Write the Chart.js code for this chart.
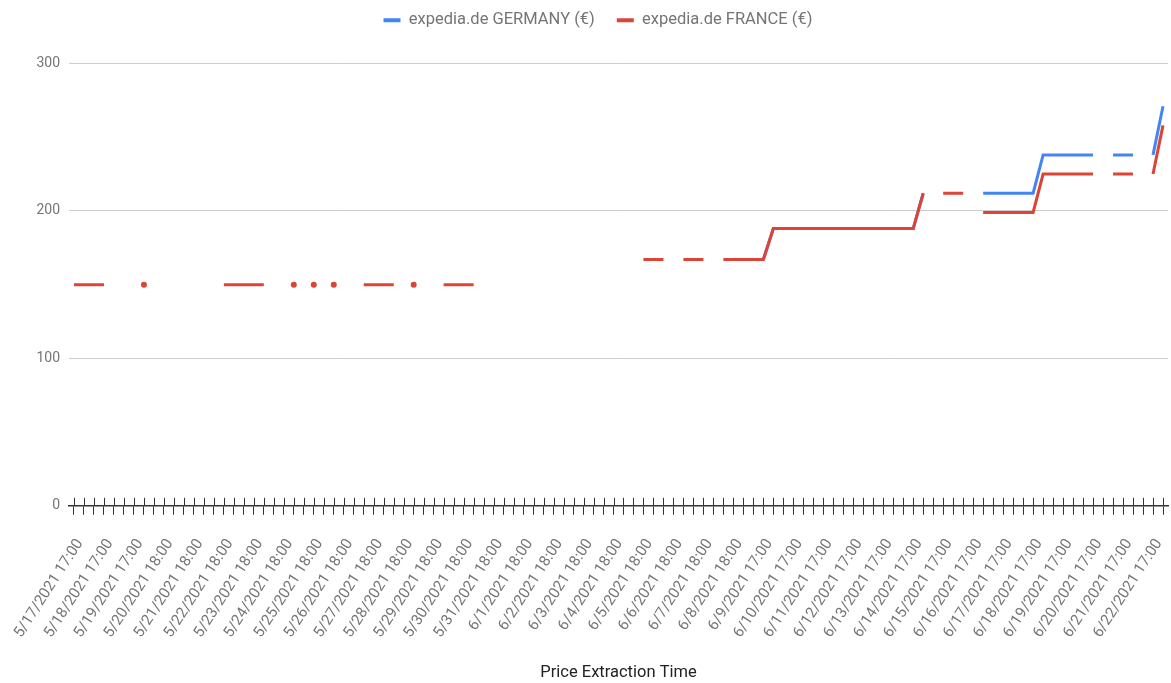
<!DOCTYPE html>
<html>
<head>
<meta charset="utf-8">
<script src="https://cdn.jsdelivr.net/npm/chart.js@4/dist/chart.umd.min.js"></script>
<style>
html, body { margin: 0; padding: 0; background: #ffffff; }
#wrap { width: 1171px; height: 683px; position: relative; }
</style>
</head>
<body>
<div id="wrap"><canvas id="c" width="1171" height="683"></canvas></div>
<script>
// Tick labels (every third extraction time is labelled)
const tickLabels = [
  '5/17/2021 17:00', '5/18/2021 17:00', '5/19/2021 17:00', '5/20/2021 18:00',
  '5/21/2021 18:00', '5/22/2021 18:00', '5/23/2021 18:00', '5/24/2021 18:00',
  '5/25/2021 18:00', '5/26/2021 18:00', '5/27/2021 18:00', '5/28/2021 18:00',
  '5/29/2021 18:00', '5/30/2021 18:00', '5/31/2021 18:00', '6/1/2021 18:00',
  '6/2/2021 18:00', '6/3/2021 18:00', '6/4/2021 18:00', '6/5/2021 18:00',
  '6/6/2021 18:00', '6/7/2021 18:00', '6/8/2021 18:00', '6/9/2021 17:00',
  '6/10/2021 17:00', '6/11/2021 17:00', '6/12/2021 17:00', '6/13/2021 17:00',
  '6/14/2021 17:00', '6/15/2021 17:00', '6/16/2021 17:00', '6/17/2021 17:00',
  '6/18/2021 17:00', '6/19/2021 17:00', '6/20/2021 17:00', '6/21/2021 17:00',
  '6/22/2021 17:00'
];
const labelEvery = 3;

// expedia.de GERMANY (€)
const germany = [
  null, null, null, null, null, null, null, null, null, null,
  null, null, null, null, null, null, null, null, null, null,
  null, null, null, null, null, null, null, null, null, null,
  null, null, null, null, null, null, null, null, null, null,
  null, null, null, null, null, null, null, null, null, null,
  null, null, null, null, null, null, null, null, null, null,
  null, null, null, null, null, null, null, null, null, 167,
  188, 188, 188, 188, 188, 188, 188, 188, 188, 188,
  188, 188, 188, 188, 188, 212, null, null, null, null,
  null, 212, 212, 212, 212, 212, 212, 238, 238, 238,
  238, 238, 238, null, 238, 238, 238, null, 238, 271
];

// expedia.de FRANCE (€)
const france = [
  150, 150, 150, 150, null, null, null, 150, null, null,
  null, null, null, null, null, 150, 150, 150, 150, 150,
  null, null, 150, null, 150, null, 150, null, null, 150,
  150, 150, 150, null, 150, null, null, 150, 150, 150,
  150, null, null, null, null, null, null, null, null, null,
  null, null, null, null, null, null, null, 167, 167, 167,
  null, 167, 167, 167, null, 167, 167, 167, 167, 167,
  188, 188, 188, 188, 188, 188, 188, 188, 188, 188,
  188, 188, 188, 188, 188, 212, null, 212, 212, 212,
  null, 199, 199, 199, 199, 199, 199, 225, 225, 225,
  225, 225, 225, null, 225, 225, 225, null, 225, 258
];

const yTicks = [0, 100, 200, 300];

const categories = france.map((_, i) => (i % labelEvery === 0 ? tickLabels[i / labelEvery] : ''));

function isolatedRadius(ctx) {
  const d = ctx.dataset.data;
  const i = ctx.dataIndex;
  if (d[i] == null) return 0;
  const prev = i > 0 ? d[i - 1] : null;
  const next = i < d.length - 1 ? d[i + 1] : null;
  return (prev == null && next == null) ? 3 : 0;
}

const crossTicks = {
  id: 'crossTicks',
  afterDraw(chart) {
    const xs = chart.scales.x;
    const ys = chart.scales.y;
    const y0 = ys.getPixelForValue(0);
    const c = chart.ctx;
    c.save();
    c.strokeStyle = '#333333';
    c.lineWidth = 1;
    c.beginPath();
    for (let i = 0; i < xs.ticks.length; i++) {
      const x = Math.round(xs.getPixelForTick(i)) + 0.5;
      c.moveTo(x, y0 - 8);
      c.lineTo(x, y0);
    }
    c.stroke();
    c.restore();
  }
};

const legendGap = {
  id: 'legendGap',
  beforeInit(chart) {
    const lg = chart.legend;
    if (!lg) return;
    const fit = lg.fit;
    lg.fit = function () {
      fit.call(this);
      this.height += 25;
    };
    const draw = lg.draw;
    lg.draw = function () {
      const c = this.ctx;
      c.save();
      c.translate(14, 0);
      draw.call(this);
      c.restore();
    };
  }
};

const FONT = 'Roboto';
Chart.defaults.font.family = FONT;

new Chart(document.getElementById('c'), {
  type: 'line',
  data: {
    labels: categories,
    datasets: [
      {
        label: 'expedia.de GERMANY (€)',
        data: germany,
        borderColor: '#4285F4',
        backgroundColor: '#4285F4',
        borderWidth: 3,
        pointRadius: isolatedRadius,
        pointHoverRadius: 0,
        pointBorderWidth: 0,
        spanGaps: false,
        tension: 0,
        order: 1
      },
      {
        label: 'expedia.de FRANCE (€)',
        data: france,
        borderColor: '#DB4437',
        backgroundColor: '#DB4437',
        borderWidth: 3,
        pointRadius: isolatedRadius,
        pointHoverRadius: 0,
        pointBorderWidth: 0,
        spanGaps: false,
        tension: 0,
        order: 0
      }
    ]
  },
  options: {
    responsive: false,
    animation: false,
    devicePixelRatio: 1,
    layout: { padding: { left: 0, right: 3, top: -10, bottom: 0 } },
    plugins: {
      legend: {
        position: 'top',
        labels: {
          boxWidth: 17,
          boxHeight: 4,
          padding: 22,
          color: '#757575',
          font: { family: FONT, size: 16.5 },
          generateLabels(chart) {
            return Chart.defaults.plugins.legend.labels.generateLabels(chart)
              .map(l => Object.assign({}, l, { lineWidth: 0 }))
              .sort((a, b) => a.datasetIndex - b.datasetIndex);
          }
        }
      },
      tooltip: { enabled: false }
    },
    scales: {
      x: {
        type: 'category',
        offset: true,
        afterFit(scale) { scale.paddingLeft = 0; scale.paddingRight = 0; },
        grid: {
          display: true,
          drawOnChartArea: false,
          drawTicks: true,
          tickLength: 9,
          tickColor: '#333333',
          tickWidth: 1,
          offset: false
        },
        border: { display: true, color: '#333333', width: 1.5 },
        ticks: {
          autoSkip: false,
          maxRotation: 57,
          minRotation: 57,
          padding: 21,
          labelOffset: 6,
          color: '#757575',
          font: { family: FONT, size: 15.2 }
        },
        title: {
          display: true,
          text: 'Price Extraction Time',
          color: '#222222',
          font: { family: FONT, size: 16.5 },
          padding: { top: 1, bottom: 0 }
        }
      },
      y: {
        min: 0,
        max: 300,
        afterBuildTicks(scale) { scale.ticks = yTicks.map(v => ({ value: v })); },
        afterFit(scale) { scale.width = 69; },
        grid: { color: '#cccccc', drawTicks: false, lineWidth: 1 },
        border: { display: false },
        ticks: {
          padding: 9,
          color: '#757575',
          font: { family: FONT, size: 14 }
        }
      }
    }
  },
  plugins: [crossTicks, legendGap]
});
</script>
</body>
</html>
